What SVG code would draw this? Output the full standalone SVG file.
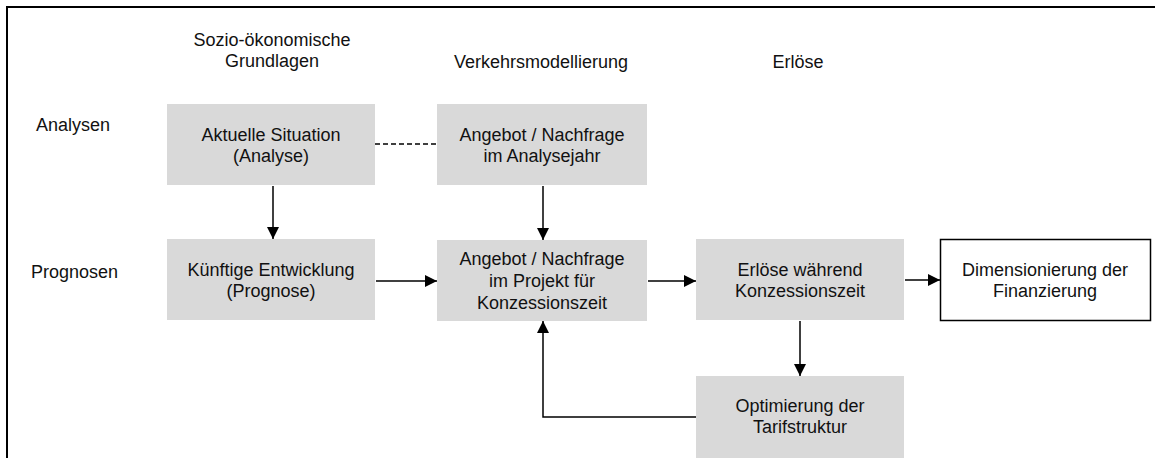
<svg xmlns="http://www.w3.org/2000/svg" width="1155" height="458" viewBox="0 0 1155 458">
<style>
text{font-family:"Liberation Sans",Arial,sans-serif;font-size:18px;fill:#111;text-anchor:middle}
.lbl{text-anchor:start}
.box{fill:#d9d9d9}
.wbox{fill:#fff;stroke:#000;stroke-width:1.5}
.c{fill:none;stroke:#000;stroke-width:1.5}
.d{fill:none;stroke:#000;stroke-width:1.5;stroke-dasharray:5 3}
</style>
<defs>
<marker id="ah" viewBox="0 0 10 10" refX="10" refY="5" markerWidth="12" markerHeight="12" markerUnits="userSpaceOnUse" orient="auto">
<path d="M0,0 L10,5 L0,10 Z" fill="#000"/>
</marker>
</defs>
<g id="frame"><path d="M7,458 V7 H1155" fill="none" stroke="#000" stroke-width="2"/></g>
<g id="headers">
<text x="272" y="46">Sozio-ökonomische</text>
<text x="272" y="67">Grundlagen</text>
<text x="541" y="68">Verkehrsmodellierung</text>
<text x="798" y="68">Erlöse</text>
<text class="lbl" x="36" y="131">Analysen</text>
<text class="lbl" x="31" y="278">Prognosen</text>
</g>
<g id="connectors">
<path class="d" d="M375,144 H437"/>
<path class="c" d="M273,186 V239" marker-end="url(#ah)"/>
<path class="c" d="M543,186 V240" marker-end="url(#ah)"/>
<path class="c" d="M376,281 H437" marker-end="url(#ah)"/>
<path class="c" d="M648,281 H696" marker-end="url(#ah)"/>
<path class="c" d="M905,280 H940" marker-end="url(#ah)"/>
<path class="c" d="M800,321 V376" marker-end="url(#ah)"/>
<path class="c" d="M696,417 H543 V321" marker-end="url(#ah)"/>
</g>
<g id="n-aktuell"><rect class="box" x="167" y="104" width="208" height="81"/><text x="271" y="141">Aktuelle Situation</text><text x="271" y="162">(Analyse)</text></g>
<g id="n-analysejahr"><rect class="box" x="437" y="104" width="210" height="81"/><text x="542" y="141">Angebot / Nachfrage</text><text x="542" y="162">im Analysejahr</text></g>
<g id="n-kuenftig"><rect class="box" x="167" y="239" width="208" height="81"/><text x="271" y="276">Künftige Entwicklung</text><text x="271" y="297">(Prognose)</text></g>
<g id="n-projekt"><rect class="box" x="437" y="240" width="210" height="81"/><text x="542" y="265">Angebot / Nachfrage</text><text x="542" y="287">im Projekt für</text><text x="542" y="309">Konzessionszeit</text></g>
<g id="n-erloese"><rect class="box" x="696" y="239" width="208" height="81"/><text x="800" y="276">Erlöse während</text><text x="800" y="297">Konzessionszeit</text></g>
<g id="n-dimension"><rect class="wbox" x="940.5" y="239.5" width="210" height="81"/><text x="1045" y="276">Dimensionierung der</text><text x="1045" y="297">Finanzierung</text></g>
<g id="n-optimierung"><rect class="box" x="696" y="376" width="208" height="82"/><text x="800" y="412">Optimierung der</text><text x="800" y="433">Tarifstruktur</text></g>
</svg>
